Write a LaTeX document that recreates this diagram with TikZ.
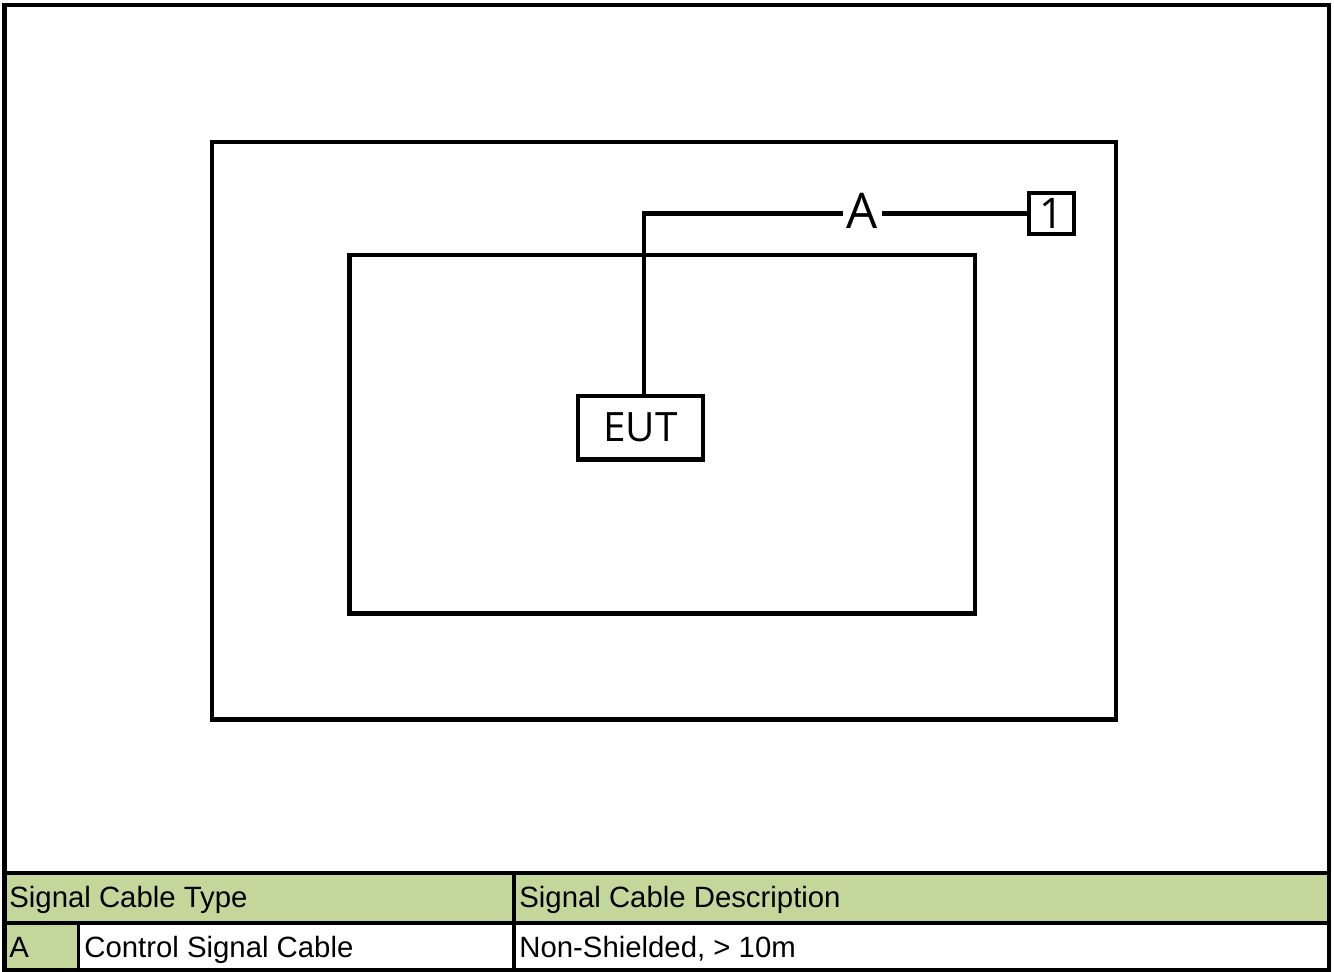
\documentclass[tikz,border=0pt]{standalone}
\usepackage{fontspec}
\setmainfont{Liberation Sans}
\newfontfamily\labelfont{Open Sans}
\usetikzlibrary{positioning,calc}
\definecolor{tablegreen}{HTML}{C4D79B}
\definecolor{framegray}{HTML}{000000}

\begin{document}
\begin{tikzpicture}[x=0.02cm,y=-0.02cm,
 wall/.style={draw=framegray,line width=2.3pt},
 cellline/.style={draw=framegray,line width=2.1pt},
 celltext/.style={anchor=base west,inner sep=0pt,font=\fontsize{16.7}{19}\selectfont}]
\useasboundingbox (0,0) rectangle (1334,972);
% table cells
\fill[tablegreen] (4.5,873) rectangle (1329,923);
\fill[tablegreen] (4.5,923) rectangle (78.5,970.5);
\draw[cellline] (4.5,873) -- (1329,873);
\draw[cellline] (4.5,923) -- (1329,923);
\draw[cellline] (78.5,923) -- (78.5,970.5);
\draw[cellline] (514,873) -- (514,970.5);
\node[celltext] (typehead) at (9,907) {Signal Cable Type};
\node[celltext] (deschead) at (519,907) {Signal Cable Description};
\node[celltext] (typeid) at (9,957) {A};
\node[celltext] (typename) at (84,957) {Control Signal Cable};
\node[celltext] (typedesc) at (519,957) {Non-Shielded, > 10m};
% page frame
\draw[framegray,line width=2.6pt] (4.5,5) rectangle (1329,970.5);
% rooms
\draw[wall] (212,142) rectangle (1116,719.5);
\draw[wall] (349.5,255) rectangle (975,613.5);
% equipment and cable
\node[draw=framegray,line width=2.3pt,minimum width=2.5cm,minimum height=1.27cm,inner sep=0pt,
 font=\labelfont\fontsize{23}{25}\selectfont] (eut) at (640.5,427.75) {EUT};
\node[draw=framegray,line width=2.3pt,minimum width=0.9cm,minimum height=0.82cm,inner sep=0pt,
 font=\labelfont\fontsize{24}{26}\selectfont] (one) at (1051.5,213.5) {1};
\coordinate (bend) at (644,213.5);
\draw[framegray,line width=2.3pt] (eut.north -| bend) -- (bend) -- (one.west);
\node[fill=white,inner xsep=2.5pt,inner ysep=0pt,font=\labelfont\fontsize{28}{30}\selectfont] (cablea) at (862.5,211) {A};
\end{tikzpicture}
\end{document}
